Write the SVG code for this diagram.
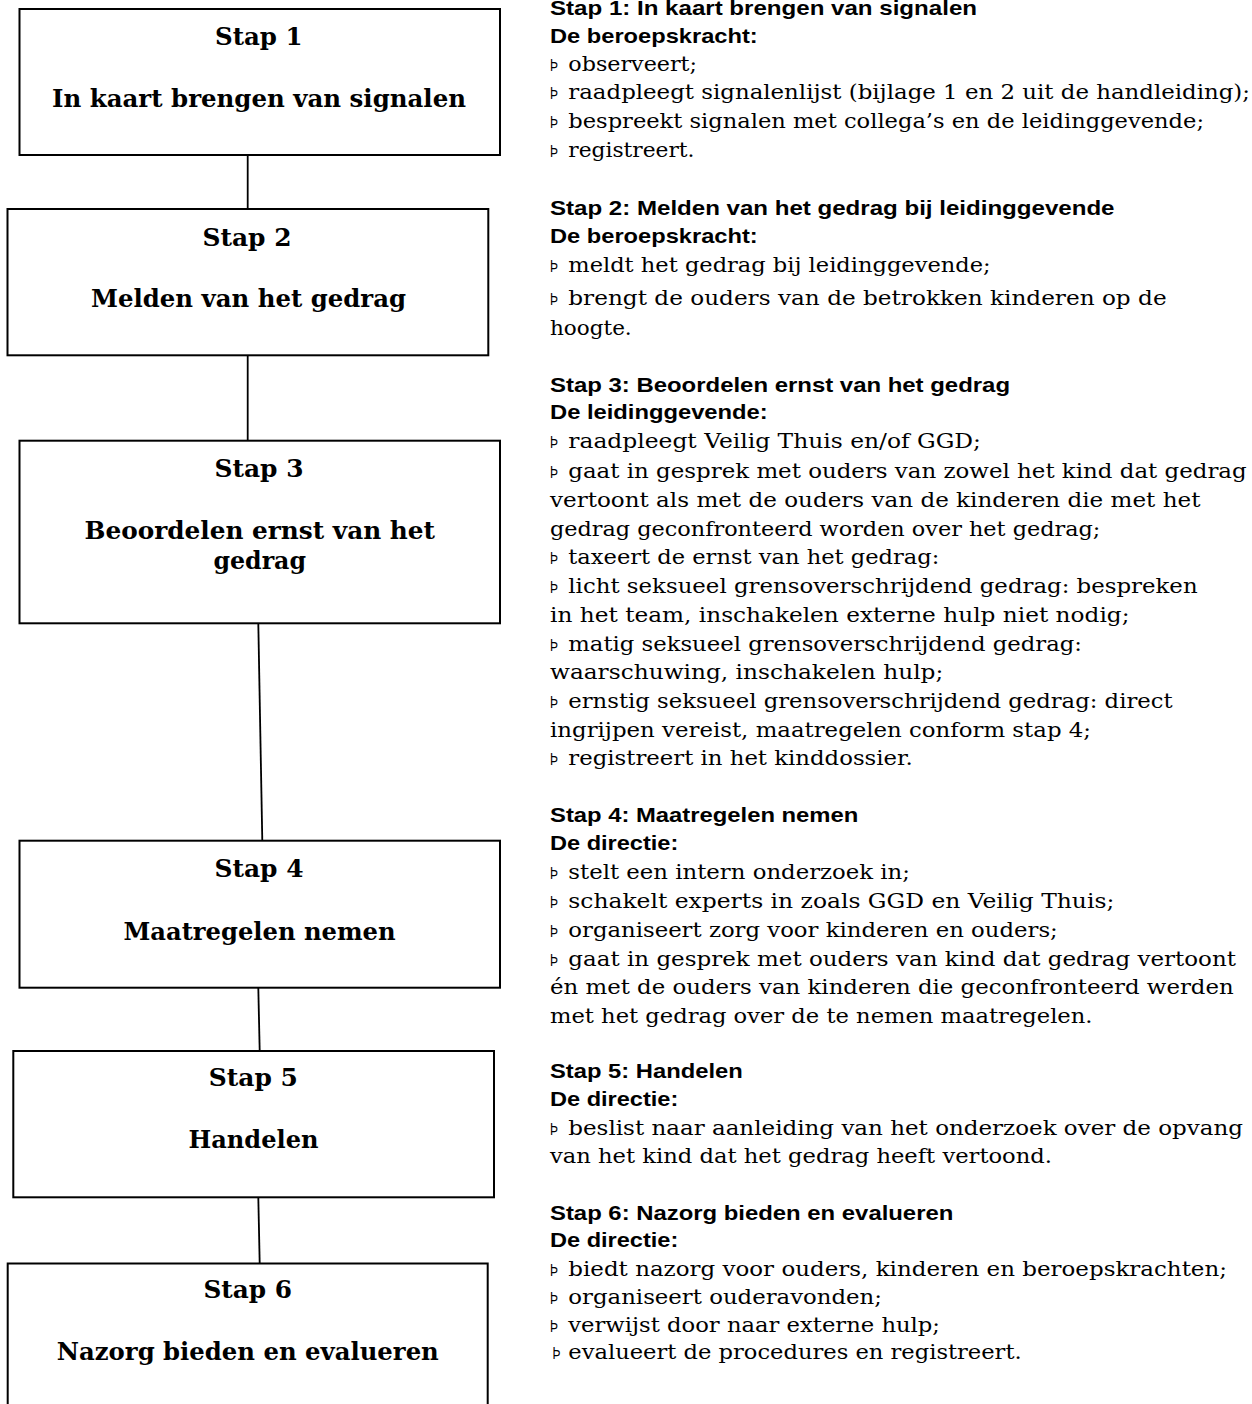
<svg xmlns="http://www.w3.org/2000/svg" width="1252" height="1404" viewBox="0 0 1252 1404">
<style>
.box{fill:#fff;stroke:#000;stroke-width:2}
.con line{stroke:#000;stroke-width:1.8}
.lbl{font-family:"DejaVu Serif","Liberation Serif",serif;font-weight:bold;font-size:24px;fill:#000}
.h{font-family:"Liberation Sans",Arial,sans-serif;font-weight:bold;font-size:21px;fill:#000}
.t{font-family:"DejaVu Serif","Liberation Serif",serif;font-size:20px;fill:#000}
.b{font-family:"Liberation Sans",Arial,sans-serif;font-size:16.5px;fill:#000}
</style>
<rect width="1252" height="1404" fill="#fff"/>
<g id="connectors" class="con">
<line x1="247.7" y1="155" x2="247.7" y2="209"/>
<line x1="247.7" y1="355.3" x2="247.7" y2="440.7"/>
<line x1="258.3" y1="623.3" x2="262.3" y2="840.7"/>
<line x1="258.3" y1="987.7" x2="259.7" y2="1051"/>
<line x1="258.3" y1="1197.3" x2="259.7" y2="1263.5"/>
</g>
<g id="stap1">
<rect class="box" x="19.5" y="9" width="480.5" height="146"/>
<text class="lbl" x="215" y="45" textLength="87.5" lengthAdjust="spacingAndGlyphs">Stap 1</text>
<text class="lbl" x="52" y="107" textLength="414" lengthAdjust="spacingAndGlyphs">In kaart brengen van signalen</text>
</g>
<g id="stap2">
<rect class="box" x="7.5" y="209" width="480.8" height="146.3"/>
<text class="lbl" x="202.5" y="245.7" textLength="89" lengthAdjust="spacingAndGlyphs">Stap 2</text>
<text class="lbl" x="91" y="306.7" textLength="315" lengthAdjust="spacingAndGlyphs">Melden van het gedrag</text>
</g>
<g id="stap3">
<rect class="box" x="19.5" y="440.7" width="480.5" height="182.6"/>
<text class="lbl" x="214.5" y="477.3" textLength="89" lengthAdjust="spacingAndGlyphs">Stap 3</text>
<text class="lbl" x="84.5" y="539.3" textLength="350.5" lengthAdjust="spacingAndGlyphs">Beoordelen ernst van het</text>
<text class="lbl" x="213.5" y="569.3" textLength="92.5" lengthAdjust="spacingAndGlyphs">gedrag</text>
</g>
<g id="stap4">
<rect class="box" x="19.5" y="840.7" width="480.5" height="147"/>
<text class="lbl" x="214.5" y="876.7" textLength="89" lengthAdjust="spacingAndGlyphs">Stap 4</text>
<text class="lbl" x="123.5" y="940" textLength="272" lengthAdjust="spacingAndGlyphs">Maatregelen nemen</text>
</g>
<g id="stap5">
<rect class="box" x="13.3" y="1051" width="480.7" height="146.3"/>
<text class="lbl" x="208.8" y="1086" textLength="89" lengthAdjust="spacingAndGlyphs">Stap 5</text>
<text class="lbl" x="188.5" y="1148.3" textLength="130" lengthAdjust="spacingAndGlyphs">Handelen</text>
</g>
<g id="stap6">
<rect class="box" x="7.7" y="1263.5" width="480" height="160"/>
<text class="lbl" x="203.5" y="1298.3" textLength="88.5" lengthAdjust="spacingAndGlyphs">Stap 6</text>
<text class="lbl" x="56.8" y="1360" textLength="382" lengthAdjust="spacingAndGlyphs">Nazorg bieden en evalueren</text>
</g>
<g id="tekst1">
<text class="h" x="550" y="14.7" textLength="427" lengthAdjust="spacingAndGlyphs">Stap 1: In kaart brengen van signalen</text>
<text class="h" x="550" y="42.7" textLength="207.7" lengthAdjust="spacingAndGlyphs">De beroepskracht:</text>
<text class="b" x="550" y="70.7" textLength="8" lengthAdjust="spacingAndGlyphs">Þ</text>
<text class="t" x="568.3" y="70.7" textLength="128.7" lengthAdjust="spacingAndGlyphs">observeert;</text>
<text class="b" x="550" y="99.3" textLength="8" lengthAdjust="spacingAndGlyphs">Þ</text>
<text class="t" x="568.3" y="99.3" textLength="681.7" lengthAdjust="spacingAndGlyphs">raadpleegt signalenlijst (bijlage 1 en 2 uit de handleiding);</text>
<text class="b" x="550" y="128" textLength="8" lengthAdjust="spacingAndGlyphs">Þ</text>
<text class="t" x="568.3" y="128" textLength="635.7" lengthAdjust="spacingAndGlyphs">bespreekt signalen met collega’s en de leidinggevende;</text>
<text class="b" x="550" y="157" textLength="8" lengthAdjust="spacingAndGlyphs">Þ</text>
<text class="t" x="568.3" y="157" textLength="126.2" lengthAdjust="spacingAndGlyphs">registreert.</text>
</g>
<g id="tekst2">
<text class="h" x="550" y="214.5" textLength="564.5" lengthAdjust="spacingAndGlyphs">Stap 2: Melden van het gedrag bij leidinggevende</text>
<text class="h" x="550" y="242.7" textLength="207.7" lengthAdjust="spacingAndGlyphs">De beroepskracht:</text>
<text class="b" x="550" y="271.5" textLength="8" lengthAdjust="spacingAndGlyphs">Þ</text>
<text class="t" x="568.3" y="271.5" textLength="422.3" lengthAdjust="spacingAndGlyphs">meldt het gedrag bij leidinggevende;</text>
<text class="b" x="550" y="305" textLength="8" lengthAdjust="spacingAndGlyphs">Þ</text>
<text class="t" x="568.3" y="305" textLength="598.3" lengthAdjust="spacingAndGlyphs">brengt de ouders van de betrokken kinderen op de</text>
<text class="t" x="550" y="335" textLength="81.7" lengthAdjust="spacingAndGlyphs">hoogte.</text>
</g>
<g id="tekst3">
<text class="h" x="550" y="391.7" textLength="460" lengthAdjust="spacingAndGlyphs">Stap 3: Beoordelen ernst van het gedrag</text>
<text class="h" x="550" y="419.3" textLength="217.7" lengthAdjust="spacingAndGlyphs">De leidinggevende:</text>
<text class="b" x="550" y="448.3" textLength="8" lengthAdjust="spacingAndGlyphs">Þ</text>
<text class="t" x="568.3" y="448.3" textLength="412.7" lengthAdjust="spacingAndGlyphs">raadpleegt Veilig Thuis en/of GGD;</text>
<text class="b" x="550" y="477.7" textLength="8" lengthAdjust="spacingAndGlyphs">Þ</text>
<text class="t" x="568.3" y="477.7" textLength="678.4" lengthAdjust="spacingAndGlyphs">gaat in gesprek met ouders van zowel het kind dat gedrag</text>
<text class="t" x="550" y="506.7" textLength="650.4" lengthAdjust="spacingAndGlyphs">vertoont als met de ouders van de kinderen die met het</text>
<text class="t" x="550" y="535.7" textLength="550.4" lengthAdjust="spacingAndGlyphs">gedrag geconfronteerd worden over het gedrag;</text>
<text class="b" x="550" y="564" textLength="8" lengthAdjust="spacingAndGlyphs">Þ</text>
<text class="t" x="568.3" y="564" textLength="371" lengthAdjust="spacingAndGlyphs">taxeert de ernst van het gedrag:</text>
<text class="b" x="550" y="593.3" textLength="8" lengthAdjust="spacingAndGlyphs">Þ</text>
<text class="t" x="568.3" y="593.3" textLength="629.3" lengthAdjust="spacingAndGlyphs">licht seksueel grensoverschrijdend gedrag: bespreken</text>
<text class="t" x="550" y="621.7" textLength="579.5" lengthAdjust="spacingAndGlyphs">in het team, inschakelen externe hulp niet nodig;</text>
<text class="b" x="550" y="651" textLength="8" lengthAdjust="spacingAndGlyphs">Þ</text>
<text class="t" x="568.3" y="651" textLength="513.6" lengthAdjust="spacingAndGlyphs">matig seksueel grensoverschrijdend gedrag:</text>
<text class="t" x="550" y="679.3" textLength="393.3" lengthAdjust="spacingAndGlyphs">waarschuwing, inschakelen hulp;</text>
<text class="b" x="550" y="708.3" textLength="8" lengthAdjust="spacingAndGlyphs">Þ</text>
<text class="t" x="568.3" y="708.3" textLength="604.3" lengthAdjust="spacingAndGlyphs">ernstig seksueel grensoverschrijdend gedrag: direct</text>
<text class="t" x="550" y="736.7" textLength="541" lengthAdjust="spacingAndGlyphs">ingrijpen vereist, maatregelen conform stap 4;</text>
<text class="b" x="550" y="765" textLength="8" lengthAdjust="spacingAndGlyphs">Þ</text>
<text class="t" x="568.3" y="765" textLength="344.4" lengthAdjust="spacingAndGlyphs">registreert in het kinddossier.</text>
</g>
<g id="tekst4">
<text class="h" x="550" y="821.7" textLength="308.3" lengthAdjust="spacingAndGlyphs">Stap 4: Maatregelen nemen</text>
<text class="h" x="550" y="850" textLength="128.3" lengthAdjust="spacingAndGlyphs">De directie:</text>
<text class="b" x="550" y="879.3" textLength="8" lengthAdjust="spacingAndGlyphs">Þ</text>
<text class="t" x="568.3" y="879.3" textLength="341.7" lengthAdjust="spacingAndGlyphs">stelt een intern onderzoek in;</text>
<text class="b" x="550" y="907.7" textLength="8" lengthAdjust="spacingAndGlyphs">Þ</text>
<text class="t" x="568.3" y="907.7" textLength="546" lengthAdjust="spacingAndGlyphs">schakelt experts in zoals GGD en Veilig Thuis;</text>
<text class="b" x="550" y="936.7" textLength="8" lengthAdjust="spacingAndGlyphs">Þ</text>
<text class="t" x="568.3" y="936.7" textLength="489.5" lengthAdjust="spacingAndGlyphs">organiseert zorg voor kinderen en ouders;</text>
<text class="b" x="550" y="965.7" textLength="8" lengthAdjust="spacingAndGlyphs">Þ</text>
<text class="t" x="568.3" y="965.7" textLength="667.7" lengthAdjust="spacingAndGlyphs">gaat in gesprek met ouders van kind dat gedrag vertoont</text>
<text class="t" x="550" y="994.3" textLength="683.7" lengthAdjust="spacingAndGlyphs">én met de ouders van kinderen die geconfronteerd werden</text>
<text class="t" x="550" y="1023.3" textLength="542.5" lengthAdjust="spacingAndGlyphs">met het gedrag over de te nemen maatregelen.</text>
</g>
<g id="tekst5">
<text class="h" x="550" y="1078.3" textLength="192.7" lengthAdjust="spacingAndGlyphs">Stap 5: Handelen</text>
<text class="h" x="550" y="1106" textLength="128.3" lengthAdjust="spacingAndGlyphs">De directie:</text>
<text class="b" x="550" y="1135" textLength="8" lengthAdjust="spacingAndGlyphs">Þ</text>
<text class="t" x="568.3" y="1135" textLength="674.7" lengthAdjust="spacingAndGlyphs">beslist naar aanleiding van het onderzoek over de opvang</text>
<text class="t" x="550" y="1163.3" textLength="502" lengthAdjust="spacingAndGlyphs">van het kind dat het gedrag heeft vertoond.</text>
</g>
<g id="tekst6">
<text class="h" x="550" y="1219.5" textLength="403.3" lengthAdjust="spacingAndGlyphs">Stap 6: Nazorg bieden en evalueren</text>
<text class="h" x="550" y="1247" textLength="128.3" lengthAdjust="spacingAndGlyphs">De directie:</text>
<text class="b" x="550" y="1275.5" textLength="8" lengthAdjust="spacingAndGlyphs">Þ</text>
<text class="t" x="568.3" y="1275.5" textLength="658.7" lengthAdjust="spacingAndGlyphs">biedt nazorg voor ouders, kinderen en beroepskrachten;</text>
<text class="b" x="550" y="1303.5" textLength="8" lengthAdjust="spacingAndGlyphs">Þ</text>
<text class="t" x="568.3" y="1303.5" textLength="313.7" lengthAdjust="spacingAndGlyphs">organiseert ouderavonden;</text>
<text class="b" x="550" y="1331.5" textLength="8" lengthAdjust="spacingAndGlyphs">Þ</text>
<text class="t" x="568.3" y="1331.5" textLength="371.7" lengthAdjust="spacingAndGlyphs">verwijst door naar externe hulp;</text>
<text class="b" x="552.5" y="1359" textLength="8" lengthAdjust="spacingAndGlyphs">Þ</text>
<text class="t" x="568.3" y="1359" textLength="453.4" lengthAdjust="spacingAndGlyphs">evalueert de procedures en registreert.</text>
</g>
</svg>
